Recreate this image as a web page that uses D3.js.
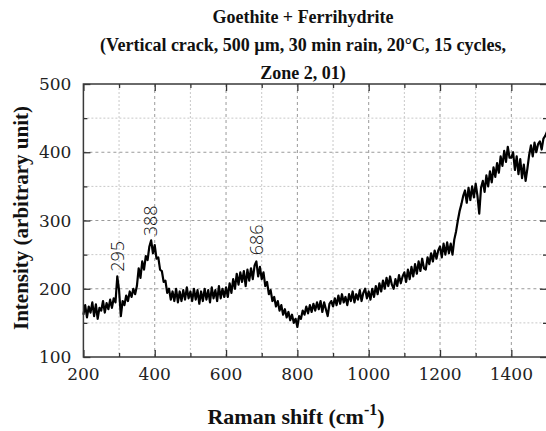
<!DOCTYPE html>
<html><head><meta charset="utf-8">
<script src="https://cdn.jsdelivr.net/npm/d3@7"></script>
<style>
html,body{margin:0;padding:0;background:#fff;}
svg{display:block;}
</style></head>
<body>
<script>
// ---- data ----
const titleLines = ["Goethite + Ferrihydrite", "(Vertical crack, 500 µm, 30 min rain, 20°C, 15 cycles,", "Zone 2, 01)"];
const xTicks = [200, 400, 600, 800, 1000, 1200, 1400];
const yTicks = [100, 200, 300, 400, 500];
const shiftStart = 200, shiftStep = 5;
const intensity = [
 162,176,158,174,165,180,160,177,156,172,168,182,165,179,170,184,172,186,180,218,
 198,160,182,176,190,182,196,188,200,192,204,230,216,240,228,248,242,262,271,252,
 264,244,246,228,226,210,212,194,200,184,196,182,200,180,196,182,198,184,202,186,
 196,182,200,184,198,178,196,182,200,184,198,180,202,186,198,182,204,186,200,188,
 202,188,208,194,214,200,222,206,224,210,226,204,228,212,230,214,234,240,218,232,
 214,224,204,210,192,198,182,188,174,182,168,176,162,170,158,166,154,162,150,156,
 144,160,156,168,162,174,164,176,166,178,168,180,170,182,166,180,170,160,178,182,
 174,186,176,190,178,192,180,188,176,192,182,196,180,192,184,198,182,194,200,186,
 196,184,200,188,204,192,208,196,212,200,216,204,218,206,200,214,204,220,208,218,
 224,210,228,214,232,218,236,222,240,226,244,230,228,246,236,252,240,256,244,256,
 262,246,266,250,268,252,266,250,272,284,300,314,324,336,344,326,348,330,350,334,
 354,336,310,348,358,342,366,350,372,356,378,364,384,370,394,380,402,386,408,392,
 392,400,374,394,368,390,362,382,358,376,396,410,394,414,400,412,416,404,420,424,
 430
];
const peakShift = [295, 388, 686];
const peakLabel = ["295", "388", "686"];
const peakLabelY = [225, 277, 249];

// ---- layout ----
const W = 546, H = 431;
const L = 83.4, R = 547, T = 84, B = 357;
const svg = d3.select("body").append("svg").attr("width", W).attr("height", H);

const x = d3.scaleLinear().domain([200, 1500]).range([L, R]);
const y = d3.scaleLinear().domain([100, 500]).range([B, T]);

const serif = "'DejaVu Serif', serif";
const bold = "'Liberation Serif', serif";

// grid
const gx = d3.range(300, 1500, 100);
const gy = d3.range(150, 500, 50);
svg.append("g").selectAll("line").data(gx).join("line")
  .attr("x1", d => x(d)).attr("x2", d => x(d)).attr("y1", T).attr("y2", B)
  .attr("stroke", d => d % 200 === 0 ? "#9a9a9a" : "#c8c8c8")
  .attr("stroke-width", 1).attr("stroke-dasharray", d => d % 200 === 0 ? "3,3" : "2,2");
svg.append("g").selectAll("line").data(gy).join("line")
  .attr("y1", d => y(d)).attr("y2", d => y(d)).attr("x1", L).attr("x2", R)
  .attr("stroke", d => d % 100 === 0 ? "#9a9a9a" : "#c8c8c8")
  .attr("stroke-width", 1).attr("stroke-dasharray", d => d % 100 === 0 ? "3,3" : "2,2");

// curve
const pts = intensity.map((v, i) => [shiftStart + i * shiftStep, v]);
svg.append("path").datum(pts)
  .attr("d", d3.line().x(d => x(d[0])).y(d => y(d[1])))
  .attr("fill", "none").attr("stroke", "#000").attr("stroke-width", 2.2)
  .attr("stroke-linejoin", "round");

// axes (inward ticks)
const axStyle = g => {
  g.select(".domain").remove();
  g.selectAll(".tick line").attr("stroke", "#333").attr("stroke-width", 1.3);
};
const xMinor = d3.range(200, 1501, 100);
const yMinor = d3.range(100, 501, 50);
const tickLen = d => (d % 200 === 0 ? 7 : 4);
const tickLenY = d => (d % 100 === 0 ? 7 : 4);

svg.append("g").attr("transform", `translate(0,${B})`)
  .call(d3.axisBottom(x).tickValues(xMinor).tickSize(0).tickFormat(""))
  .call(axStyle)
  .selectAll(".tick line").attr("y2", d => -tickLen(d));
svg.append("g").attr("transform", `translate(0,${T})`)
  .call(d3.axisTop(x).tickValues(xMinor).tickSize(0).tickFormat(""))
  .call(axStyle)
  .selectAll(".tick line").attr("y2", d => tickLen(d));
svg.append("g").attr("transform", `translate(${L},0)`)
  .call(d3.axisLeft(y).tickValues(yMinor).tickSize(0).tickFormat(""))
  .call(axStyle)
  .selectAll(".tick line").attr("x2", d => tickLenY(d));
svg.append("g").attr("transform", `translate(${R},0)`)
  .call(d3.axisRight(y).tickValues(yMinor).tickSize(0).tickFormat(""))
  .call(axStyle)
  .selectAll(".tick line").attr("x2", d => -tickLenY(d));

// tick labels
svg.append("g").selectAll("text").data(xTicks).join("text")
  .attr("x", d => x(d)).attr("y", 380).attr("text-anchor", "middle")
  .attr("font-family", serif).attr("font-size", 17).attr("fill", "#222")
  .text(d => d);
svg.append("g").selectAll("text").data(yTicks).join("text")
  .attr("x", L - 12).attr("y", d => y(d)).attr("dy", "0.36em").attr("text-anchor", "end")
  .attr("font-family", serif).attr("font-size", 17).attr("fill", "#222")
  .text(d => d);

// frame
svg.append("rect").attr("x", L).attr("y", T).attr("width", R - L).attr("height", B - T)
  .attr("fill", "none").attr("stroke", "#3a3a3a").attr("stroke-width", 1.5);

// peak labels
svg.append("g").selectAll("text").data(peakShift).join("text")
  .attr("transform", (d, i) => `translate(${x(d)},${y(peakLabelY[i])}) rotate(-90)`)
  .attr("dy", "0.35em")
  .attr("font-family", "'Open Sans', sans-serif").attr("font-weight", 300)
  .attr("font-size", 18).attr("fill", "#111")
  .text((d, i) => peakLabel[i]);

// title
svg.append("g").selectAll("text").data(titleLines).join("text")
  .attr("x", 303).attr("y", (d, i) => 23 + i * 28).attr("text-anchor", "middle")
  .attr("font-family", bold).attr("font-weight", "bold").attr("font-size", 18).attr("fill", "#111")
  .text(d => d);

// axis titles
const xt = svg.append("text").attr("x", 296).attr("y", 424).attr("text-anchor", "middle")
  .attr("font-family", bold).attr("font-weight", "bold").attr("font-size", 22).attr("fill", "#111");
xt.append("tspan").text("Raman shift (cm");
xt.append("tspan").attr("dy", -9).attr("font-size", 16).text("-1");
xt.append("tspan").attr("dy", 9).text(")");

svg.append("text").attr("transform", "translate(28,218) rotate(-90)").attr("text-anchor", "middle")
  .attr("font-family", bold).attr("font-weight", "bold").attr("font-size", 21).attr("fill", "#111")
  .text("Intensity (arbitrary unit)");
</script>
</body></html>
